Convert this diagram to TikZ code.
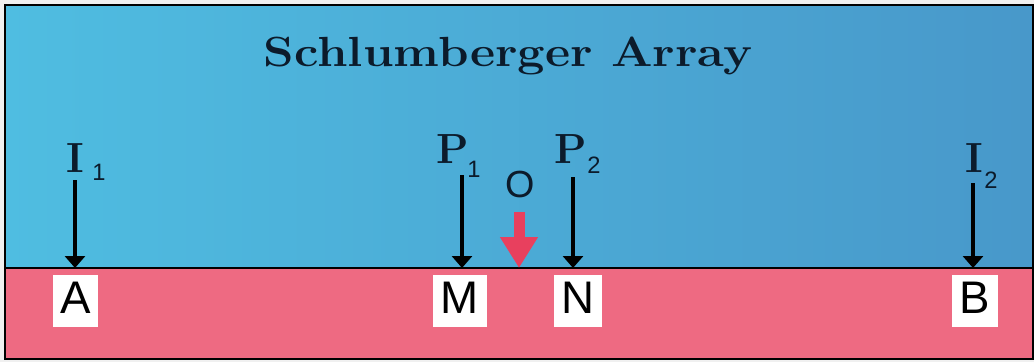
\documentclass[tikz,border=0pt]{standalone}
\usepackage{fontspec}
\newfontfamily\arialish{Liberation Sans}
\usetikzlibrary{
  arrows.meta,
  positioning,
}
\definecolor{skyL}{HTML}{4FBDE1}
\definecolor{skyR}{HTML}{4898CA}
\definecolor{soil}{HTML}{EE6A82}
\definecolor{marker}{HTML}{E8405E}
\definecolor{paper}{HTML}{F0F0F0}
\definecolor{ink}{HTML}{0C1B2B}
\tikzset{
  titletext/.style={
    inner sep=0pt, anchor=base, text=ink,
    font=\fontsize{24}{28}\selectfont\bfseries,
  },
  electrode/.style={
    inner sep=0pt, anchor=base, text=ink,
    font=\fontsize{24}{28}\selectfont\bfseries,
  },
  subidx/.style={
    inner sep=0pt, anchor=base west, text=ink,
    font=\arialish\fontsize{13.5}{16}\selectfont,
  },
  centrelabel/.style={
    inner sep=0pt, anchor=base, text=ink,
    font=\arialish\fontsize{21.5}{24}\selectfont,
  },
  groundtag/.style={
    rectangle, fill=white, anchor=north,
    inner xsep=0.15cm, inner ysep=0.1cm,
    text height=0.66cm, text depth=0.18cm,
    font=\arialish\fontsize{26}{30}\selectfont,
  },
  probe/.style={
    -{Triangle[length=0.24cm,width=0.4cm]}, line width=0.07cm, draw=black,
  },
  centremark/.style={
    -{Triangle[length=0.62cm,width=0.72cm]}, line width=0.22cm, draw=marker,
  },
}

\begin{document}
\begin{tikzpicture}[x=0.02cm, y=-0.02cm]
\useasboundingbox (0,0) rectangle (1034,362);
\fill[paper] (0,0) rectangle (1034,362);

% sky and ground
\shade[left color=skyL, right color=skyR] (5,5) rectangle (1033,268);
\fill[soil] (5,268) rectangle (1033,359);
\draw[line width=0.04cm] (5,268) -- (1033,268);
\draw[line width=0.04cm] (5,5) rectangle (1033,359);

\node[titletext] (title) at (508,66) {\scalebox{1.16}[1]{Schlumberger Array}};

% electrode labels
\node[electrode] (letI1) at (75.5,172) {I};
\node[subidx] (subI1) at (92,180) {1};
\node[electrode] (letP1) at (452.5,163) {P};
\node[subidx] (subP1) at (467,177) {1};
\node[centrelabel] (letO) at (520,197) {O};
\node[electrode] (letP2) at (570.5,163) {P};
\node[subidx] (subP2) at (587,173) {2};
\node[electrode] (letI2) at (974.5,172) {I};
\node[subidx] (subI2) at (984,188) {2};

% arrow ends
\coordinate (topA) at (75,180);
\coordinate (topM) at (462,175);
\coordinate (topO) at (519,212);
\coordinate (topN) at (573,177);
\coordinate (topB) at (973,183);
\coordinate (gndA) at (75,268);
\coordinate (gndM) at (462,268);
\coordinate (gndO) at (519,268);
\coordinate (gndN) at (573,268);
\coordinate (gndB) at (973,268);

\draw[probe] (topA) -- (gndA);
\draw[probe] (topM) -- (gndM);
\draw[probe] (topN) -- (gndN);
\draw[probe] (topB) -- (gndB);
\draw[centremark] (topO) -- (gndO);

% ground stations
\node[groundtag] (tagA) at (75.5,275) {A};
\node[groundtag] (tagM) at (460,275) {M};
\node[groundtag] (tagN) at (577.5,275) {N};
\node[groundtag] (tagB) at (975,275) {B};

\end{tikzpicture}
\end{document}
